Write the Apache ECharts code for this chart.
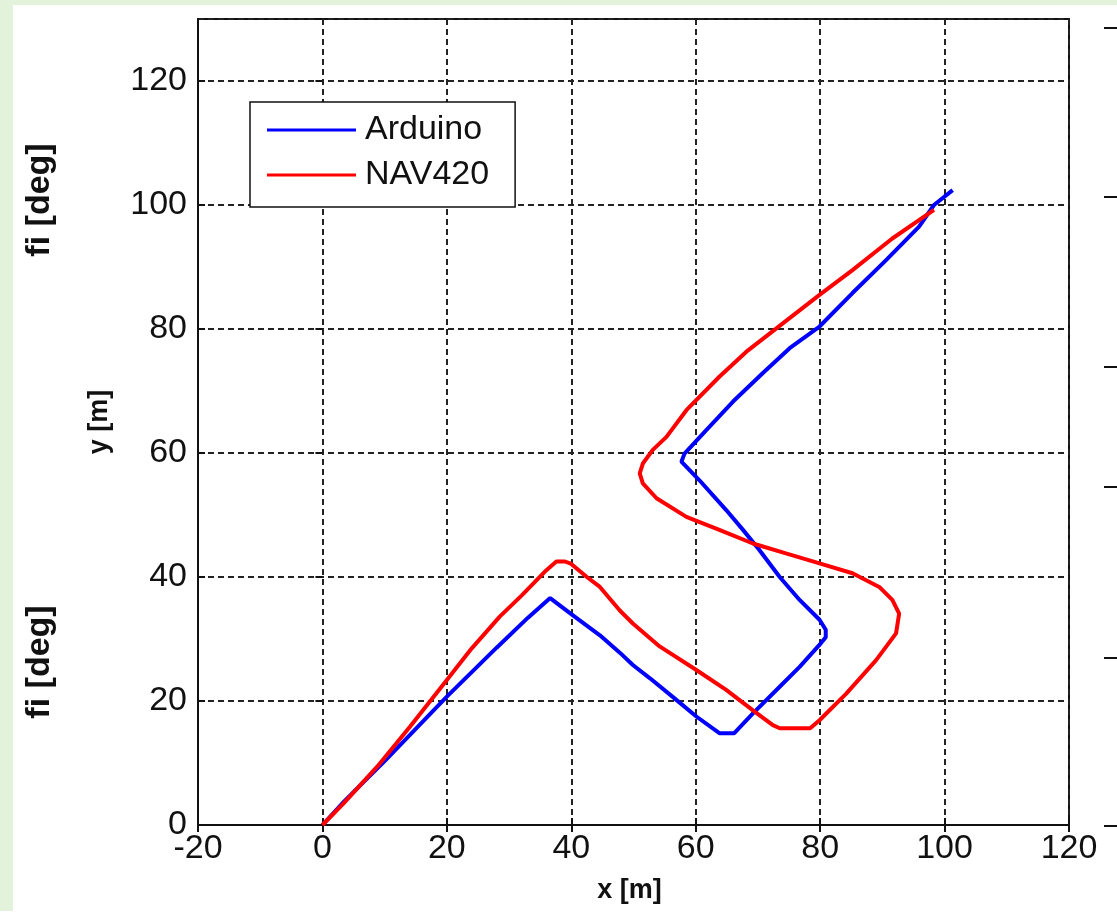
<!DOCTYPE html>
<html>
<head>
<meta charset="utf-8">
<script src="https://cdn.jsdelivr.net/npm/echarts@6/dist/echarts.min.js"></script>
<style>
  html, body { margin: 0; padding: 0; background: #fff; }
  #chart { width: 1117px; height: 923px; }
</style>
</head>
<body>
<div id="chart"></div>
<script>
// trajectory data [m]
const arduinoX = [0, 3.5, 10, 20, 28, 33, 36.6, 40, 44.6, 47.8, 49.9, 52.6, 56.5, 60.1, 63.8, 66.2,
  69.2, 73.5, 76.7, 80.1, 80.9, 80.9, 79.9, 76.7, 73.5, 70.2, 67.6, 64.9, 60.6, 57.7, 58.2,
  61.7, 66.0, 70.8, 75.1, 78.0, 79.9, 85.2, 90.6, 95.9, 98.3, 101.3];
const arduinoY = [0, 3.8, 10.3, 20.7, 28.6, 33.4, 36.6, 34, 30.6, 27.8, 25.8, 23.7, 20.5, 17.5, 14.8, 14.8,
  18.0, 22.3, 25.5, 29.3, 30.3, 31.5, 33.1, 36.3, 40.0, 44.4, 47.6, 50.8, 55.6, 58.6, 59.9,
  63.7, 68.3, 72.9, 76.9, 79.0, 80.4, 85.8, 91.1, 96.5, 100, 102.4];

const navX = [0, 3.4, 8.8, 14.1, 20, 24, 28.5, 32, 36, 37.6, 39, 40, 42.5, 44.6, 47.8, 49.9, 54.2,
  60.1, 64.9, 69.2, 72.4, 73.5, 78.4, 79.9, 84.2, 89.0, 92.2, 92.7, 91.6, 89.5, 85.2, 79.9,
  74.5, 69.2, 63.8, 58.5, 53.7, 51.5, 51.0, 51.5, 53.1, 55.3, 58.5, 63.8, 68.1, 74.0, 79.9,
  85.2, 91.6, 98.3];
const navY = [0, 3.5, 9.4, 15.9, 23.4, 28.5, 33.6, 37, 41.1, 42.5, 42.5, 42.1, 40, 38.4, 34.6, 32.5, 28.8,
  25.0, 21.8, 18.5, 16.1, 15.6, 15.6, 16.9, 21.2, 26.6, 30.9, 34.1, 36.3, 38.4, 40.6, 42.2,
  43.8, 45.4, 47.6, 49.7, 52.7, 55.1, 56.7, 58.3, 60.5, 62.6, 66.9, 72.3, 76.3, 80.9, 85.5,
  89.5, 94.6, 99.2];

const seriesNames = ['Arduino', 'NAV420'];
const xTicks = { min: -20, max: 120, step: 20 };
const yTicks = { min: 0, max: 130, step: 20 };

function zip(xs, ys) {
  return xs.map((x, i) => [x, ys[i]]);
}

const chart = echarts.init(document.getElementById('chart'));
const font = 'Liberation Sans, Arial, sans-serif';
const ink = '#111';

const gridLine = { show: true, lineStyle: { color: '#222', width: 2, type: [6, 4] } };
const tick = { show: true, inside: true, length: 7, lineStyle: { color: ink, width: 2 } };

// stray tick marks of the neighbouring figure on the right edge
const sideTicks = [28, 197, 367, 487, 658, 826].map(y => ({
  type: 'line', shape: { x1: 1104, y1: y, x2: 1117, y2: y },
  style: { stroke: ink, lineWidth: 2 }
}));

const option = {
  backgroundColor: '#fff',
  animation: false,
  grid: {
    left: 198, right: 48, top: 19, bottom: 98,
    show: true, backgroundColor: '#fff', borderColor: ink, borderWidth: 2
  },
  legend: {
    left: 250, top: 102,
    orient: 'vertical',
    backgroundColor: '#fff', borderColor: ink, borderWidth: 1.5,
    padding: [11, 26, 15, 17],
    itemWidth: 89, itemHeight: 3, itemGap: 11,
    textStyle: { fontFamily: font, fontSize: 34, color: ink, lineHeight: 34, padding: [0, 0, 0, 4] },
    data: seriesNames.map(n => ({ name: n, icon: 'rect' }))
  },
  xAxis: [{
    type: 'value', min: xTicks.min, max: xTicks.max, interval: xTicks.step,
    name: 'x [m]', nameLocation: 'middle', nameGap: 52,
    nameTextStyle: { fontFamily: font, fontSize: 27, fontWeight: 'bold', color: ink, padding: [0, 8, 0, 0] },
    axisLine: { show: true, onZero: false, lineStyle: { color: ink, width: 2 } },
    axisTick: tick,
    axisLabel: { fontFamily: font, fontSize: 34, color: ink, margin: 7 },
    splitLine: gridLine
  }, {
    type: 'value', position: 'top', min: xTicks.min, max: xTicks.max, interval: xTicks.step,
    axisLine: { show: false }, axisTick: tick, axisLabel: { show: false }, splitLine: { show: false }
  }],
  yAxis: [{
    type: 'value', min: yTicks.min, max: yTicks.max, interval: yTicks.step,
    name: 'y [m]', nameLocation: 'middle', nameGap: 85,
    nameTextStyle: { fontFamily: font, fontSize: 27, fontWeight: 'bold', color: ink },
    axisLine: { show: true, onZero: false, lineStyle: { color: ink, width: 2 } },
    axisTick: tick,
    axisLabel: { fontFamily: font, fontSize: 34, color: ink, margin: 11, showMaxLabel: false },
    splitLine: gridLine
  }, {
    type: 'value', position: 'right', min: yTicks.min, max: yTicks.max, interval: yTicks.step,
    axisLine: { show: false }, axisTick: tick, axisLabel: { show: false }, splitLine: { show: false }
  }],
  series: [{
    name: seriesNames[0], type: 'line', data: zip(arduinoX, arduinoY),
    showSymbol: false, symbol: 'none', color: '#0000ff',
    lineStyle: { color: '#0000ff', width: 4 }, z: 3
  }, {
    name: seriesNames[1], type: 'line', data: zip(navX, navY),
    showSymbol: false, symbol: 'none', color: '#ff0000',
    lineStyle: { color: '#ff0000', width: 4 }, z: 4
  }],
  graphic: [
    { type: 'rect', z: -10, shape: { x: 0, y: 0, width: 1117, height: 5 }, style: { fill: '#e3f3db' } },
    { type: 'rect', z: -10, shape: { x: 0, y: 0, width: 13, height: 911 }, style: { fill: '#e3f3db' } },
    { type: 'text', x: 40, y: 200, rotation: Math.PI / 2,
      style: { text: 'fi [deg]', font: 'bold 34px ' + font, fill: ink, align: 'center', verticalAlign: 'middle' } },
    { type: 'text', x: 40, y: 662, rotation: Math.PI / 2,
      style: { text: 'fi [deg]', font: 'bold 34px ' + font, fill: ink, align: 'center', verticalAlign: 'middle' } }
  ].concat(sideTicks)
};

chart.setOption(option);
</script>
</body>
</html>
